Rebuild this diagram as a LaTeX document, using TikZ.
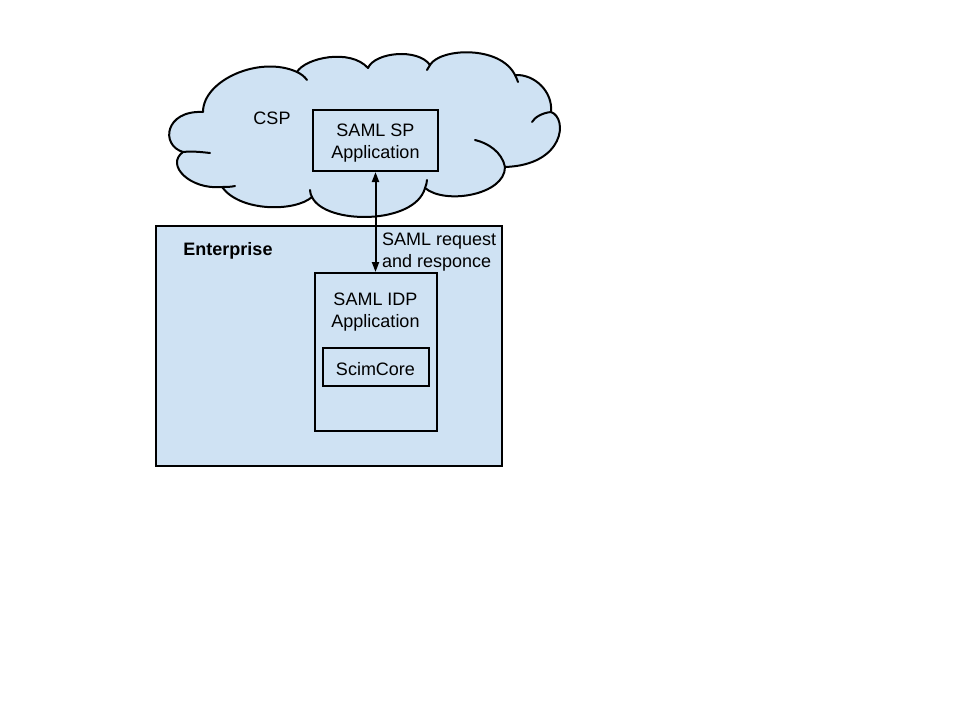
\documentclass[tikz,border=0pt]{standalone}
\usepackage{fontspec}
\setmainfont{Liberation Sans}
\usetikzlibrary{arrows.meta}
\definecolor{fillblue}{RGB}{207,226,243}
\begin{document}
\begin{tikzpicture}[x=1pt,y=-1pt,
  every node/.style={font=\fontsize{18}{22}\selectfont},
  box/.style={draw=black, line width=2pt, fill=fillblue, inner sep=0pt, align=center},
  plain/.style={inner sep=0pt, align=center},
  cloudline/.style={draw=black, line width=2pt, line join=round, line cap=round}]
\useasboundingbox (0,0) rectangle (960,720);
\fill[white] (0,0) rectangle (960,720);
% cloud
\path[cloudline, fill=fillblue]
  (203,112) .. controls (203,80) and (260,55) .. (297,72)
  .. controls (305,58) and (350,48) .. (368,68)
  .. controls (375,52) and (418,48) .. (430,65)
  .. controls (440,48) and (500,45) .. (515,75)
  .. controls (535,74) and (553,92) .. (551,112)
  .. controls (568,118) and (565,165) .. (505,167)
  .. controls (505,195) and (445,205) .. (425,188)
  .. controls (415,225) and (325,225) .. (312,197)
  .. controls (295,212) and (240,212) .. (222,187)
  .. controls (190,190) and (165,165) .. (183,152)
  .. controls (160,145) and (165,110) .. (203,112) -- cycle;
% cloud hooks
\draw[cloudline] (297,72) .. controls (301,74) and (304,76) .. (307,80);
\draw[cloudline] (430,65) .. controls (429,67) and (428,68) .. (427,70);
\draw[cloudline] (515,75) .. controls (516,77) and (517,79) .. (518,82);
\draw[cloudline] (551,112) .. controls (542,113) and (535,117) .. (532,122);
\draw[cloudline] (505,167) .. controls (502,152) and (488,143) .. (475,140);
\draw[cloudline] (425,188) .. controls (426,185) and (427,183) .. (427,180);
\draw[cloudline] (312,197) .. controls (311,195) and (310,193) .. (310,190);
\draw[cloudline] (222,187) .. controls (226,187) and (231,187) .. (235,186);
\draw[cloudline] (183,152) .. controls (192,151) and (201,152) .. (210,153);
\node[plain] (csp) at (272,118.5) {CSP};
\node[box, minimum width=125pt, minimum height=61pt] (sp) at (375.5,140.5) {};
\node[plain] (splbl) at (375.5,143) {SAML SP\\Application};
% enterprise
\node[box, minimum width=346pt, minimum height=240pt] (ent) at (329,346) {};
\node[plain, font=\fontsize{18}{22}\selectfont\bfseries] (entlbl) at (228,251) {Enterprise};
\node[box, minimum width=122pt, minimum height=158pt] (idp) at (375.5,352) {};
\node[plain] (idplbl) at (375.5,312) {SAML IDP\\Application};
\node[box, minimum width=106pt, minimum height=38pt] (scim) at (375.5,367) {};
\node[plain] (scimlbl) at (375.5,369) {ScimCore};
% connector
\draw[line width=2pt, {Triangle[length=10pt,width=7pt]}-{Triangle[length=10pt,width=7pt]}] (sp.south) -- (idp.north);
\node[plain, anchor=west, align=left] (lbl) at (382,252.5) {SAML request\\and responce};
\end{tikzpicture}
\end{document}
